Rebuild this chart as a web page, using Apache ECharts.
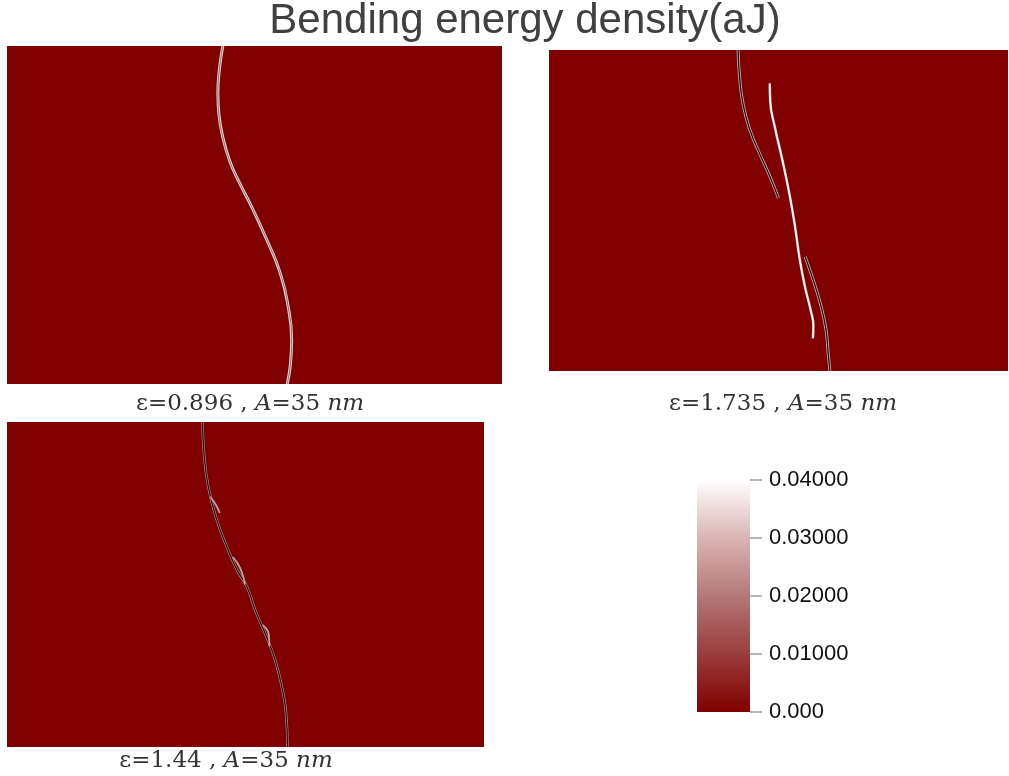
<!DOCTYPE html>
<html>
<head>
<meta charset="utf-8">
<script src="https://cdn.jsdelivr.net/npm/echarts@6/dist/echarts.min.js"></script>
<style>
  html, body { margin: 0; padding: 0; background: #fff; }
  #main { width: 1009px; height: 776px; }
</style>
</head>
<body>
<div id="main"></div>
<script>
// curve points, in percent of each panel (x from left, y from bottom)
const panel1Curve = [[43.6,100],[42.9,93],[42.6,86],[42.8,80],[43.6,73],[45.0,66],[46.8,60],[49.4,52.5],[52.5,42.6],[55.2,32.8],[56.8,22.9],[57.5,13.0],[57.2,5.1],[56.6,0]];

const panel2CurveA = [[41.2,100],[41.5,92],[42.3,83],[43.8,75],[45.8,68],[48.0,61],[50.0,53.8]];
const panel2CurveB = [[48.1,89.6],[48.2,84],[49.2,76],[50.8,66],[52.4,55],[53.6,45],[54.6,35],[55.8,26],[57.0,19],[57.6,14],[57.5,10.2]];
const panel2CurveC = [[55.8,35.6],[57.2,29.9],[59.0,21.6],[60.3,13.3],[60.8,6.0],[61.2,0]];

const panel3Curve = [[41.0,100],[41.3,90.4],[42.2,80.1],[44.0,69.8],[46.1,61.6],[48.2,54.5],[50.3,49.3],[52.0,42.2],[54.4,33.9],[56.2,26.8],[57.6,18.6],[58.5,10.4],[58.8,0]];
const panel3Lens1 = [[42.6,77.0],[43.8,74.5],[44.6,72.0]];
const panel3Lens2 = [[47.3,58.5],[48.9,55.0],[49.9,50.0]];
const panel3Lens3 = [[53.6,37.5],[54.9,34.5],[55.0,31.0]];

const captions = ['0.896', '1.735', '1.44'];
const colorTicks = [0, 0.01, 0.02, 0.03, 0.04];
const colorMax = 0.04;

const chart = echarts.init(document.getElementById('main'));

const panelGrids = [
    { left: 7, top: 46, width: 495, height: 338 },
    { left: 549, top: 50, width: 459, height: 321 },
    { left: 7, top: 422, width: 477, height: 325 }
];

let grids = panelGrids.map(function (g) {
    return Object.assign({ show: true, backgroundColor: '#800000', borderWidth: 0 }, g);
});
grids.push({ left: 697, top: 480, width: 53, height: 232 });

let xAxes = panelGrids.map(function (g, i) {
    return { type: 'value', gridIndex: i, min: 0, max: 100, show: false };
});
xAxes.push({ type: 'category', gridIndex: 3, data: ['bar'], show: false });

let yAxes = panelGrids.map(function (g, i) {
    return { type: 'value', gridIndex: i, min: 0, max: 100, show: false };
});
yAxes.push({
    type: 'value',
    gridIndex: 3,
    position: 'right',
    min: 0,
    max: colorMax,
    interval: 0.01,
    axisLine: { show: false },
    splitLine: { show: false },
    axisTick: { show: true, length: 12, lineStyle: { color: '#a0a0a0', width: 1.5 } },
    axisLabel: {
        margin: 19,
        fontSize: 22,
        fontFamily: 'Liberation Sans',
        color: '#111',
        formatter: function (v) { return v === 0 ? '0.000' : v.toFixed(5); }
    }
});

// a curve = light wide stroke under a thin core stroke
function curve(data, idx, outer, inner, w1, w2) {
    let base = { type: 'line', xAxisIndex: idx, yAxisIndex: idx, smooth: 0.5, showSymbol: false, silent: true, data: data };
    return [
        Object.assign({}, base, { lineStyle: { color: outer, width: w1 } }),
        Object.assign({}, base, { lineStyle: { color: inner, width: w2 } })
    ];
}

let series = [].concat(
    curve(panel1Curve, 0, '#e0d4d4', '#8c6a6a', 3, 1),
    curve(panel2CurveA, 1, '#bfa5a5', '#1a0505', 3, 1.2),
    curve(panel2CurveB, 1, '#d8c8c8', '#ffffff', 2.5, 1.3),
    curve(panel2CurveC, 1, '#bfa5a5', '#1a0505', 3, 1.2),
    curve(panel3Curve, 2, '#b09090', '#1a0505', 2.5, 1.2),
    curve(panel3Lens1, 2, '#a07878', '#d8c0c0', 2, 0.8),
    curve(panel3Lens2, 2, '#a07878', '#d8c0c0', 2, 0.8),
    curve(panel3Lens3, 2, '#a07878', '#d8c0c0', 2, 0.8)
);

series.push({
    type: 'bar',
    xAxisIndex: 3,
    yAxisIndex: 3,
    barWidth: '100%',
    silent: true,
    data: [colorMax],
    itemStyle: {
        color: new echarts.graphic.LinearGradient(0, 0, 0, 1, [
            { offset: 0, color: '#ffffff' },
            { offset: 0.25, color: '#dab4b4' },
            { offset: 0.5, color: '#b47878' },
            { offset: 0.75, color: '#9a3c3c' },
            { offset: 1, color: '#800000' }
        ])
    }
});

const capPos = [[250, 404], [783, 404], [226, 761]];
let captionTexts = captions.map(function (c, i) {
    return {
        type: 'text',
        x: capPos[i][0],
        y: capPos[i][1],
        style: {
            text: 'ε=' + c + ' , {i|A}=35 {i|nm}',
            font: '23px "DejaVu Serif"',
            fill: '#333',
            align: 'center',
            verticalAlign: 'middle',
            rich: { i: { fontStyle: 'italic', fontFamily: 'DejaVu Serif', fontSize: 23, fill: '#333' } }
        }
    };
});

chart.setOption({
    animation: false,
    grid: grids,
    xAxis: xAxes,
    yAxis: yAxes,
    series: series,
    graphic: [{
        type: 'text',
        x: 525,
        y: 21,
        style: {
            text: 'Bending energy density(aJ)',
            font: '42px "Liberation Sans"',
            fill: '#404040',
            align: 'center',
            verticalAlign: 'middle'
        }
    }].concat(captionTexts)
});
</script>
</body>
</html>
